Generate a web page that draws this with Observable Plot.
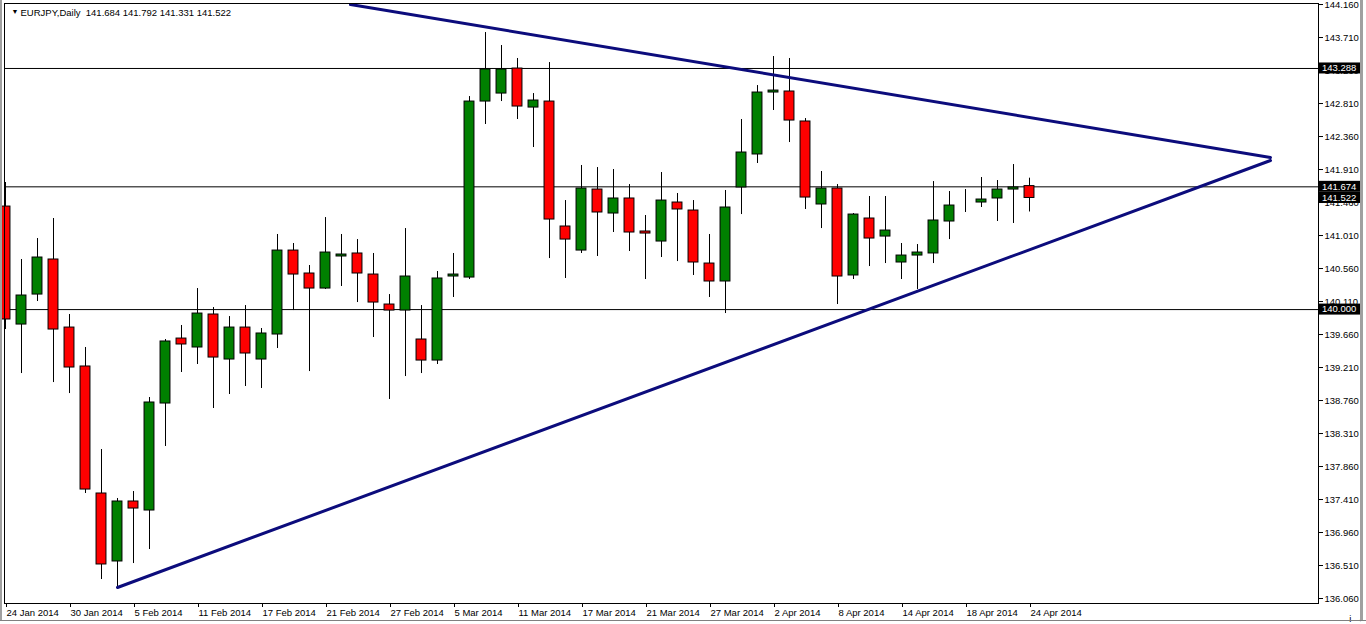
<!DOCTYPE html>
<html><head><meta charset="utf-8">
<script src="https://cdn.jsdelivr.net/npm/d3@7"></script>
<script src="https://cdn.jsdelivr.net/npm/@observablehq/plot@0.6"></script>
<style>
html,body{margin:0;padding:0;background:#fff;}
#wrap{position:relative;width:1366px;height:624px;overflow:hidden;background:#fff;}
#wrap svg{display:block;position:absolute;left:0;top:0;}
.edge{position:absolute;background:#a0a0a0;}
</style></head><body>
<div id="wrap"></div>
<script>
const dates = ["24 Jan 2014","27 Jan 2014","28 Jan 2014","29 Jan 2014","30 Jan 2014","31 Jan 2014",
"3 Feb 2014","4 Feb 2014","5 Feb 2014","6 Feb 2014","7 Feb 2014","10 Feb 2014","11 Feb 2014","12 Feb 2014","13 Feb 2014","14 Feb 2014",
"17 Feb 2014","18 Feb 2014","19 Feb 2014","20 Feb 2014","21 Feb 2014","24 Feb 2014","25 Feb 2014","26 Feb 2014","27 Feb 2014","28 Feb 2014",
"3 Mar 2014","4 Mar 2014","5 Mar 2014","6 Mar 2014","7 Mar 2014","10 Mar 2014","11 Mar 2014","12 Mar 2014","13 Mar 2014","14 Mar 2014",
"17 Mar 2014","18 Mar 2014","19 Mar 2014","20 Mar 2014","21 Mar 2014","24 Mar 2014","25 Mar 2014","26 Mar 2014","27 Mar 2014","28 Mar 2014","31 Mar 2014",
"1 Apr 2014","2 Apr 2014","3 Apr 2014","4 Apr 2014","7 Apr 2014","8 Apr 2014","9 Apr 2014","10 Apr 2014","11 Apr 2014",
"14 Apr 2014","15 Apr 2014","16 Apr 2014","17 Apr 2014","18 Apr 2014","21 Apr 2014","22 Apr 2014","23 Apr 2014","24 Apr 2014"];

const open  = [141.405,139.796,140.205,140.683,139.755,139.224,137.492,136.565,137.383,137.260,
138.719,139.605,139.483,139.933,139.319,139.755,139.319,139.660,140.805,140.492,
140.287,140.724,140.765,140.478,140.069,139.987,139.592,139.305,140.451,140.437,
142.837,142.946,143.287,142.755,142.837,141.133,140.805,141.637,141.310,141.515,
141.065,140.928,141.460,141.351,140.628,140.383,141.665,142.115,142.960,142.974,
142.565,141.433,141.651,140.465,141.242,140.996,140.642,140.737,140.765,141.201,
141.440,141.460,141.515,141.637,141.684];
const high  = [141.733,140.683,140.969,141.242,139.933,139.483,138.092,137.424,137.519,138.801,
139.592,139.783,140.287,140.028,139.905,140.055,139.742,141.024,140.901,140.601,
141.255,141.024,140.955,140.765,140.205,141.105,140.055,140.519,140.765,142.905,
143.778,143.601,143.424,142.946,143.369,141.487,141.965,141.937,141.910,141.705,
141.283,141.869,141.583,141.487,141.024,141.624,142.592,143.055,143.451,143.424,
142.605,141.883,141.705,141.310,141.542,141.542,140.901,140.887,141.746,141.610,
141.637,141.801,141.760,141.978,141.792];
const low   = [139.728,139.128,140.110,139.005,138.855,137.492,136.319,136.210,136.537,136.728,
138.133,139.142,139.251,138.651,138.842,138.951,138.924,139.469,139.987,139.155,
140.274,140.315,140.096,139.619,138.774,139.087,139.128,139.251,140.165,140.410,
142.524,142.837,142.592,142.210,140.696,140.424,140.765,140.724,141.051,140.792,
140.410,140.710,140.655,140.465,140.165,139.946,141.296,141.992,142.715,142.278,
141.365,141.105,140.069,140.410,140.587,140.628,140.410,140.274,140.628,140.955,
141.324,141.392,141.201,141.174,141.331];
const close = [139.865,140.192,140.710,139.728,139.210,137.546,136.524,137.383,137.287,138.733,
139.565,139.524,139.946,139.346,139.755,139.401,139.674,140.805,140.478,140.287,
140.778,140.751,140.492,140.096,139.987,140.451,139.305,140.424,140.478,142.837,
143.274,143.274,142.769,142.851,141.228,140.955,141.651,141.324,141.515,141.051,
141.037,141.487,141.365,140.642,140.383,141.392,142.142,142.960,142.987,142.578,
141.528,141.651,140.451,141.296,140.969,141.078,140.737,140.778,141.215,141.419,
141.440,141.501,141.637,141.665,141.522];

// horizontal level lines and the price boxes on the right scale
const levels = [143.288, 141.674, 140.000];
const priceBoxes = [143.288, 141.674, 141.522, 140.000];
// trend lines: [bar index, price]
const trendUpper = [[21.56, 144.160], [79.06, 142.074]];
const trendLower = [[7.00, 136.210], [79.06, 142.033]];
// right axis tick values
const yTicks = [144.160,143.710,143.260,142.810,142.360,141.910,141.460,141.010,140.560,140.110,
139.660,139.210,138.760,138.310,137.860,137.410,136.960,136.510,136.060];
const xTickIdx = [0,4,8,12,16,20,24,28,32,36,40,44,48,52,56,60,64];
const header = "EURJPY,Daily  141.684 141.792 141.331 141.522";

const bars = dates.map((d, i) => ({i, o: open[i], h: high[i], l: low[i], c: close[i]}));
const half = 0.31;
const font = "'Liberation Sans', Arial, sans-serif";

const plot = Plot.plot({
  width: 1366, height: 624,
  marginLeft: 4, marginRight: 48, marginTop: 3, marginBottom: 21,
  x: {domain: [-0.0625, 82.0625], axis: null},
  y: {domain: [135.992, 144.174], axis: null},
  style: {fontFamily: font, fontSize: "9.5px", color: "#000", background: "#fff", overflow: "visible"},
  marks: [
    Plot.ruleY(levels, {stroke: "#000", strokeWidth: 1}),
    Plot.ruleX(bars, {x: "i", y1: "l", y2: "h", stroke: "#000", strokeWidth: 1}),
    Plot.rect(bars, {
      x1: d => d.i - half, x2: d => d.i + half, y1: "o", y2: "c",
      fill: d => d.c > d.o ? "#008000" : d.c < d.o ? "#ff0000" : "#000",
      stroke: "#000", strokeWidth: 1
    }),
    Plot.line(trendUpper, {x: d => d[0], y: d => d[1], stroke: "#0c0c7c", strokeWidth: 3}),
    Plot.line(trendLower, {x: d => d[0], y: d => d[1], stroke: "#0c0c7c", strokeWidth: 3}),
    Plot.frame({stroke: "#000", strokeWidth: 1}),
    Plot.axisY(yTicks, {anchor: "right", tickSize: 4, tickPadding: 2, tickFormat: d3.format(".3f"), fontSize: 9.5}),
    Plot.axisX(xTickIdx, {anchor: "bottom", tickSize: 4, tickPadding: 2, tickFormat: i => dates[i], textAnchor: "start", dx: 1, fontSize: 9.5}),
    Plot.text(["\u25BC"], {frameAnchor: "top-left", dx: 7, dy: 8, textAnchor: "start", lineAnchor: "middle", fontSize: 7, fill: "#000"}),
    Plot.text([header], {frameAnchor: "top-left", dx: 16, dy: 9, textAnchor: "start", lineAnchor: "middle", fontSize: 9.5, fill: "#000"})
  ]
});

const wrap = document.getElementById("wrap");
wrap.appendChild(plot);

// black price boxes on the right scale, positioned with the plot's own scales
const ys = plot.scale("y");
const xr = plot.scale("x").range;
const g = d3.select(plot).append("g").attr("text-anchor", "start");
priceBoxes.forEach(v => {
  const y = ys.apply(v);
  g.append("rect").attr("x", xr[1] + 1).attr("y", y - 5.5).attr("width", 41).attr("height", 11).attr("fill", "#000");
  g.append("text").attr("x", xr[1] + 4).attr("y", y).attr("dy", "0.35em").attr("text-anchor", "start")
    .attr("fill", "#fff").attr("font-family", font).attr("font-size", "9.5px").text(v.toFixed(3));
});

// window edges
[["left:0;top:0;width:2px;height:621px"],["left:1360px;top:0;width:3px;height:621px"],["left:0;top:620px;width:1366px;height:1px;background:#808080"]]
  .forEach(([css]) => { const e = document.createElement("div"); e.className = "edge"; e.style.cssText += css; wrap.appendChild(e); });
</script>
</body></html>
